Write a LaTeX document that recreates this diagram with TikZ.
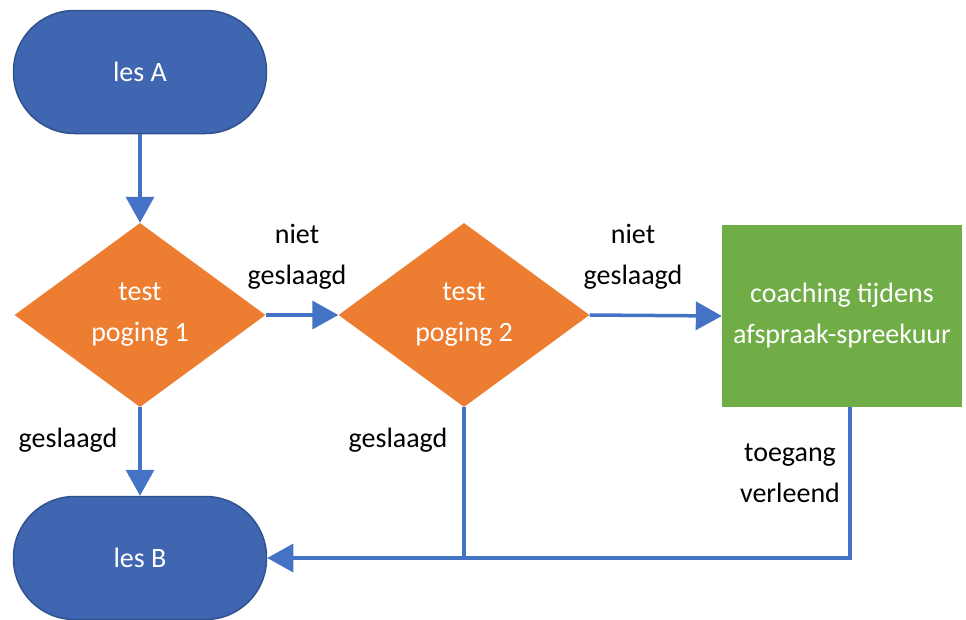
\documentclass[tikz,border=0pt]{standalone}
\usepackage{fontspec}
\setmainfont{Carlito}
\usetikzlibrary{shapes.geometric,arrows.meta,calc}
\definecolor{lesfill}{HTML}{4066B1}
\definecolor{lesedge}{HTML}{2F528F}
\definecolor{linec}{HTML}{4472C4}
\definecolor{orangec}{HTML}{ED7D31}
\definecolor{greenc}{HTML}{70AD47}
\tikzset{
  base/.style={font=\fontsize{28}{41}\selectfont, align=center, inner sep=0pt},
  stad/.style={base, rectangle, rounded corners=61pt, fill=lesfill, draw=lesedge, line width=1.5pt,
    minimum width=253pt, minimum height=123pt, text=white},
  dia/.style={base, diamond, fill=orangec, minimum width=251pt, minimum height=184pt, text=white},
  gbox/.style={base, rectangle, fill=greenc, minimum width=240pt, minimum height=182pt, text=white},
  lbl/.style={base, text=black},
  conn/.style={draw=linec, line width=3.5pt},
  arr/.style={conn, -{Triangle[length=26pt,width=28pt]}},
}
\begin{document}
\begin{tikzpicture}[x=1pt,y=-1pt]
\useasboundingbox (0,0) rectangle (966,619);
\node[stad] (A) at (140,72) {les A};
\node[dia] (T1) at (140,315) {test\\poging 1};
\node[dia] (T2) at (464,315) {test\\poging 2};
\node[gbox] (C) at (842,316) {coaching tijdens\\afspraak-spreekuur};
\node[stad] (B) at (140,558) {les B};
\coordinate (cx) at ($(C.south)+(8,0)$);
\node[lbl] (n1) at (297,257) {niet\\geslaagd};
\node[lbl] (n2) at (633,257) {niet\\geslaagd};
\node[lbl] (g1) at (68,440) {geslaagd};
\node[lbl] (g2) at (398,440) {geslaagd};
\node[lbl] (tv) at (790,473) {toegang\\verleend};
\draw[arr] (A.south) -- (T1.north);
\draw[arr] (T1.east) -- (T2.west);
\draw[arr] (T2.east) -- (C.west);
\draw[arr] (T1.south) -- (B.north);
\draw[arr] (cx) |- (B.east);
\draw[conn] (T2.south) -- (T2.south |- B.east);
\end{tikzpicture}
\end{document}
